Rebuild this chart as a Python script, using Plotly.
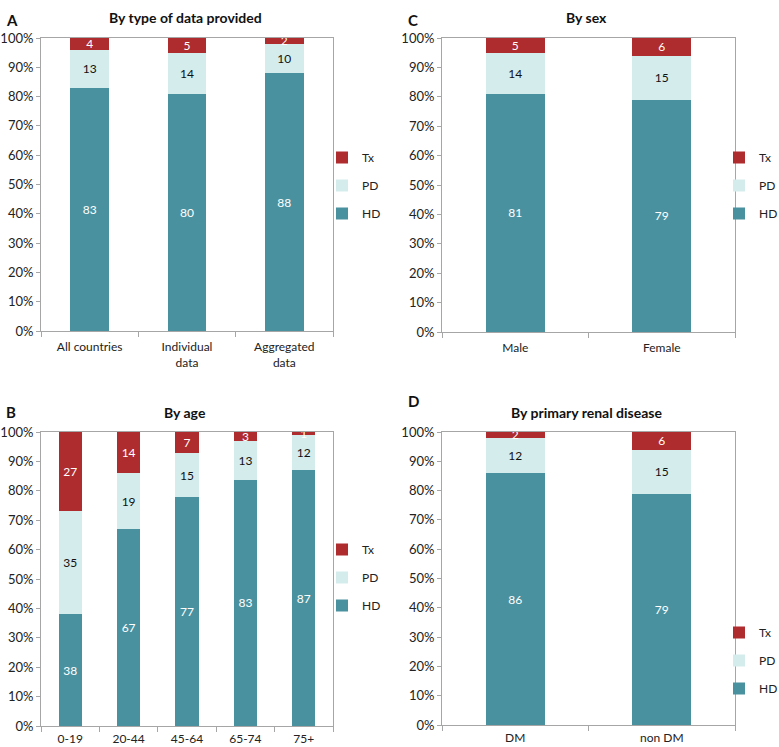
import plotly.graph_objects as go

# ---- data ----
series = ["HD", "PD", "Tx"]

cats_a = ["All countries", "Individual<br>data", "Aggregated<br>data"]
hd_a = [83, 80, 88]
pd_a = [13, 14, 10]
tx_a = [4, 5, 2]

cats_b = ["0-19", "20-44", "45-64", "65-74", "75+"]
hd_b = [38, 67, 77, 83, 87]
pd_b = [35, 19, 15, 13, 12]
tx_b = [27, 14, 7, 3, 1]

cats_c = ["Male", "Female"]
hd_c = [81, 79]
pd_c = [14, 15]
tx_c = [5, 6]

cats_d = ["DM", "non DM"]
hd_d = [86, 79]
pd_d = [12, 15]
tx_d = [2, 6]

titles = ["By type of data provided", "By age", "By sex", "By primary renal disease"]
letters = ["A", "B", "C", "D"]

# ---- style ----
W, H = 779, 747
FONT = "Lato, Arial, sans-serif"
colors = {"HD": "#4A919F", "PD": "#D4ECEC", "Tx": "#AE2B2E"}
txtcol = {"HD": "white", "PD": "#111111", "Tx": "white"}
legrank = {"HD": 3, "PD": 2, "Tx": 1}
AXC = "#A6A6A6"

def px_x(x):
    return x / W

def px_y(y):
    return 1 - y / H

# panel geometry in pixels: (x0, x1, ytop, ybottom)
panels = {
    "A": (41, 333, 38, 331),
    "B": (41, 333, 432, 726),
    "C": (442, 735, 38, 332),
    "D": (442, 735, 432, 725),
}
standoff = {"A": 5, "B": 2, "C": 5, "D": 2}
legend_pos = {"A": (322, 143), "B": (322, 535), "C": (719, 143), "D": (719, 618)}

data_sets = {
    "A": (cats_a, hd_a, pd_a, tx_a),
    "B": (cats_b, hd_b, pd_b, tx_b),
    "C": (cats_c, hd_c, pd_c, tx_c),
    "D": (cats_d, hd_d, pd_d, tx_d),
}

fig = go.Figure()
layout = dict(
    width=W, height=H, margin=dict(l=0, r=0, t=0, b=0, autoexpand=False),
    paper_bgcolor="white", plot_bgcolor="white",
    barmode="stack", barnorm="percent", bargap=0.6,
    font=dict(family=FONT, size=12, color="#222222"),
    annotations=[],
)

for i, key in enumerate(["A", "B", "C", "D"]):
    n = "" if i == 0 else str(i + 1)
    lg = "legend" if i == 0 else f"legend{i + 1}"
    cats, hd, pdv, tx = data_sets[key]
    for s, vals in zip(series, [hd, pdv, tx]):
        fig.add_trace(go.Bar(
            x=cats, y=vals, name=s,
            marker=dict(color=colors[s], line=dict(width=0)),
            text=[str(v) for v in vals], textposition="inside",
            insidetextanchor="middle", textangle=0, constraintext="none",
            textfont=dict(color=txtcol[s], size=12, family=FONT),
            cliponaxis=False,
            xaxis="x" + n, yaxis="y" + n,
            legend=lg, legendgroup=key + s, legendrank=legrank[s],
        ))
    x0, x1, yt, yb = panels[key]
    layout["xaxis" + n] = dict(
        domain=[px_x(x0), px_x(x1)], anchor="y" + n, type="category",
        tickson="boundaries", ticks="outside", ticklen=5, tickcolor=AXC,
        ticklabelstandoff=standoff[key],
        showline=True, linecolor=AXC, linewidth=1, mirror=True,
        showgrid=False, tickfont=dict(size=12, color="#222222"),
        fixedrange=True, automargin=False,
    )
    layout["yaxis" + n] = dict(
        domain=[px_y(yb), px_y(yt)], anchor="x" + n, range=[0, 100.0001],
        tickvals=list(range(0, 101, 10)),
        ticktext=[f"{v}%" for v in range(0, 101, 10)],
        ticks="outside", ticklen=4, tickcolor=AXC,
        showline=True, linecolor=AXC, linewidth=1, mirror=True,
        showgrid=False, zeroline=False, tickfont=dict(size=13, color="#222222"),
        fixedrange=True, automargin=False,
    )
    lx, ly = legend_pos[key]
    layout[lg] = dict(
        x=px_x(lx), y=px_y(ly), xanchor="left", yanchor="top",
        traceorder="grouped", tracegroupgap=9,
        bgcolor="rgba(0,0,0,0)", font=dict(size=12, color="#222222"),
        itemwidth=30,
    )
    # title
    cx = (x0 + x1) / 2 - 2
    layout["annotations"].append(dict(
        text="<b>" + titles[["A", "B", "C", "D"].index(key)] + "</b>",
        x=px_x(cx), y=px_y(yt - 20), xref="paper", yref="paper",
        xanchor="center", yanchor="middle", showarrow=False,
        font=dict(size=14, color="#111111", family=FONT),
    ))

letter_pos = {"A": (12, 20), "B": (11, 412), "C": (413, 20), "D": (413, 401)}
for key, (lx, ly) in letter_pos.items():
    layout["annotations"].append(dict(
        text="<b>" + key + "</b>", x=px_x(lx), y=px_y(ly),
        xref="paper", yref="paper", xanchor="center", yanchor="middle",
        showarrow=False, font=dict(size=15, color="#111111", family=FONT),
    ))

fig.update_layout(**layout)
fig.write_html(
    "out.html",
    config={"displayModeBar": False},
    post_script="document.body.style.margin='0';document.body.style.overflow='hidden';",
)
